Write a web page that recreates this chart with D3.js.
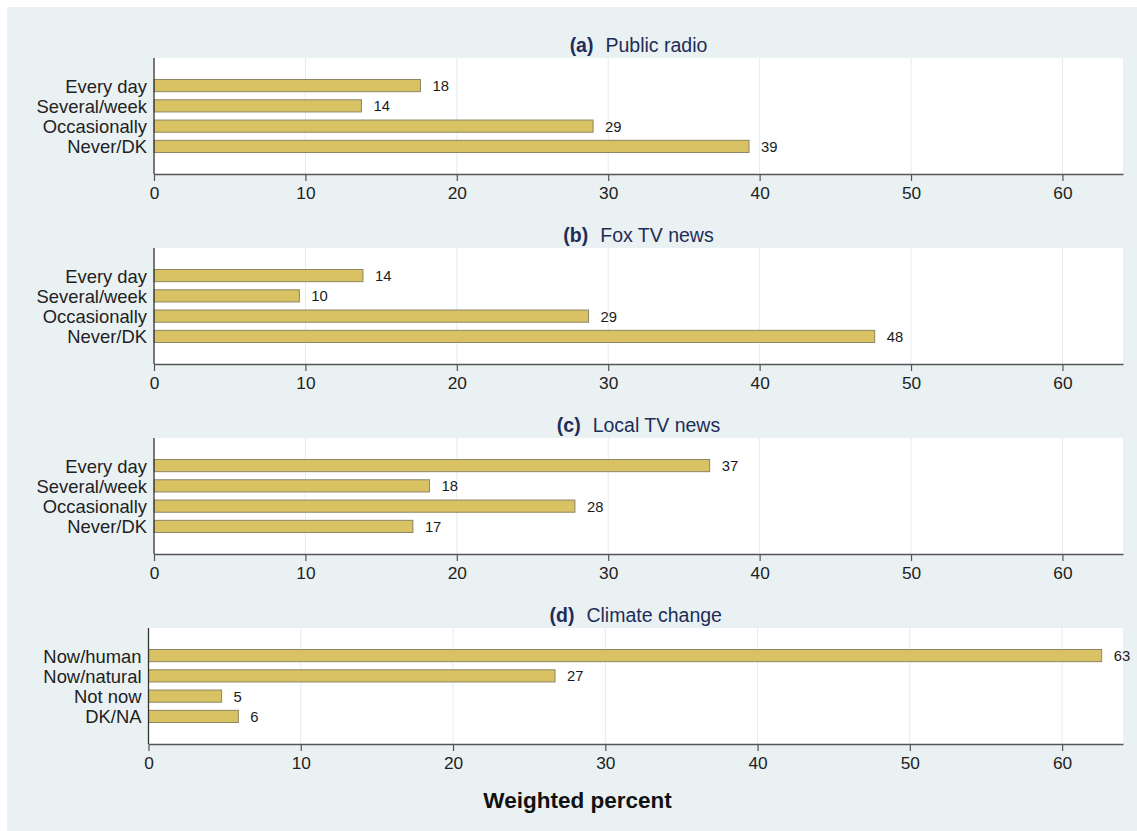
<!DOCTYPE html>
<html>
<head>
<meta charset="utf-8">
<script src="https://cdn.jsdelivr.net/npm/d3@7"></script>
<style>
  html, body { margin: 0; padding: 0; background: #ffffff; }
  svg { display: block; font-family: "Liberation Sans", Arial, sans-serif; }
</style>
</head>
<body>
<svg id="chart" width="1137" height="831"></svg>
<script>
const panelLetters = ["(a)", "(b)", "(c)", "(d)"];
const panelTitles = ["Public radio", "Fox TV news", "Local TV news", "Climate change"];
const mediaCategories = ["Every day", "Several/week", "Occasionally", "Never/DK"];
const climateCategories = ["Now/human", "Now/natural", "Not now", "DK/NA"];
const publicRadio = [17.6, 13.7, 29.0, 39.3];
const foxNews = [13.8, 9.6, 28.7, 47.6];
const localNews = [36.7, 18.2, 27.8, 17.1];
const climateChange = [62.6, 26.7, 4.8, 5.9];
const xTicks = [0, 10, 20, 30, 40, 50, 60];
const xAxisTitle = "Weighted percent";

const panels = [
  { letter: panelLetters[0], title: panelTitles[0], cats: mediaCategories, vals: publicRadio, left: 154 },
  { letter: panelLetters[1], title: panelTitles[1], cats: mediaCategories, vals: foxNews, left: 154 },
  { letter: panelLetters[2], title: panelTitles[2], cats: mediaCategories, vals: localNews, left: 154 },
  { letter: panelLetters[3], title: panelTitles[3], cats: climateCategories, vals: climateChange, left: 148.5 }
];

const svg = d3.select("#chart");
svg.append("rect").attr("x", 7).attr("y", 7).attr("width", 1130).attr("height", 824).attr("fill", "#eaf1f3");

const right = 1123;
const fmt = d3.format(".0f");

panels.forEach((p, i) => {
  const top = 58 + i * 190;
  const bottom = 174 + i * 190;
  const x = d3.scaleLinear().domain([0, 64]).range([p.left, right]);
  const y = d3.scaleBand().domain(p.cats).range([top + 21.5, bottom - 21.5]).paddingInner(0.4).paddingOuter(0);
  const g = svg.append("g");

  g.append("rect").attr("x", p.left).attr("y", top).attr("width", right - p.left).attr("height", bottom - top).attr("fill", "#ffffff");

  g.selectAll(".grid").data(xTicks.filter(t => t > 0)).join("line")
    .attr("x1", d => x(d)).attr("x2", d => x(d))
    .attr("y1", top).attr("y2", bottom)
    .attr("stroke", "#e3ecef").attr("stroke-width", 1);

  g.selectAll(".bar").data(p.vals).join("rect")
    .attr("x", x(0))
    .attr("y", (d, j) => y(p.cats[j]))
    .attr("width", d => x(d) - x(0))
    .attr("height", y.bandwidth())
    .attr("fill", "#d9c264")
    .attr("stroke", "#8d8563")
    .attr("stroke-width", 1);

  g.selectAll(".val").data(p.vals).join("text")
    .attr("x", d => x(d) + 12)
    .attr("y", (d, j) => y(p.cats[j]) + y.bandwidth() / 2)
    .attr("dy", "0.38em")
    .attr("font-size", 14.8)
    .attr("fill", "#1a1a1a")
    .text(d => fmt(d));

  const xa = g.append("g").attr("transform", `translate(0,${bottom})`)
    .call(d3.axisBottom(x).tickValues(xTicks).tickSize(7).tickSizeOuter(0).tickPadding(6).tickFormat(d3.format("d")));
  xa.select(".domain").attr("stroke", "#555555").attr("stroke-width", 1.3);
  xa.selectAll(".tick line").attr("stroke", "#555555").attr("stroke-width", 1.2);
  xa.selectAll(".tick text").attr("font-size", 17.3).attr("fill", "#222222").attr("font-family", "Liberation Sans, Arial, sans-serif");

  g.append("line").attr("x1", p.left).attr("x2", p.left).attr("y1", top).attr("y2", bottom)
    .attr("stroke", "#333333").attr("stroke-width", 1.3);
  const ya = g.append("g").attr("transform", `translate(${p.left},0)`)
    .call(d3.axisLeft(y).tickSize(0).tickPadding(7));
  ya.select(".domain").remove();
  ya.selectAll(".tick text").attr("font-size", 18.4).attr("dy", "0.38em").attr("fill", "#222222").attr("font-family", "Liberation Sans, Arial, sans-serif");

  const t = g.append("text")
    .attr("x", (p.left + right) / 2)
    .attr("y", top - 6.5)
    .attr("text-anchor", "middle")
    .attr("font-size", 19.5)
    .attr("fill", "#1e2d57");
  t.append("tspan").attr("font-weight", "bold").text(p.letter);
  t.append("tspan").attr("dx", 12).text(p.title);
});

svg.append("text")
  .attr("x", 577.5).attr("y", 808)
  .attr("text-anchor", "middle")
  .attr("font-size", 22.5)
  .attr("font-weight", "bold")
  .attr("fill", "#111111")
  .text(xAxisTitle);
</script>
</body>
</html>
